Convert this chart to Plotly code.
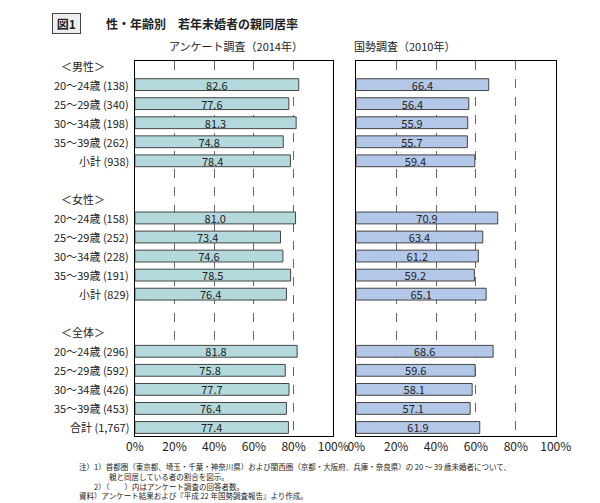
import plotly.graph_objects as go

# 行ラベル（見出し・空行を含む）
labels = ["＜男性＞", "20～24歳 (138)", "25～29歳 (340)", "30～34歳 (198)", "35～39歳 (262)", "小計 (938)", "",
          "＜女性＞", "20～24歳 (158)", "25～29歳 (252)", "30～34歳 (228)", "35～39歳 (191)", "小計 (829)", "",
          "＜全体＞", "20～24歳 (296)", "25～29歳 (592)", "30～34歳 (426)", "35～39歳 (453)", "合計 (1,767)"]
survey_2014 = [None, 82.6, 77.6, 81.3, 74.8, 78.4, None,
               None, 81.0, 73.4, 74.6, 78.5, 76.4, None,
               None, 81.8, 75.8, 77.7, 76.4, 77.4]
census_2010 = [None, 66.4, 56.4, 55.9, 55.7, 59.4, None,
               None, 70.9, 63.4, 61.2, 59.2, 65.1, None,
               None, 68.6, 59.6, 58.1, 57.1, 61.9]
ticks = [0, 20, 40, 60, 80, 100]

rows = list(range(len(labels)))
font = "Noto Sans CJK JP"

fig = go.Figure()
for vals, color, xa, ya in [(survey_2014, "#b3d9dc", "x", "y"), (census_2010, "#b3c7e8", "x2", "y2")]:
    fig.add_trace(go.Bar(
        x=vals, y=rows, orientation="h", xaxis=xa, yaxis=ya, width=0.62,
        marker=dict(color=color, line=dict(color="#444", width=1)),
        text=[f"{v:.1f}" if v is not None else "" for v in vals],
        textposition="inside", insidetextanchor="middle", constraintext="none",
        textfont=dict(size=11, color="#222", family=font),
        showlegend=False))

axis_x = dict(range=[0, 100], tickvals=ticks, ticktext=[f"{t}%" for t in ticks],
              showgrid=True, gridcolor="#666", griddash="dash", gridwidth=1,
              showline=True, linecolor="black", mirror=True, ticks="", zeroline=False,
              tickfont=dict(size=12, family=font, color="#222"))
axis_y = dict(range=[19.45, -0.25], showticklabels=False, showgrid=False, zeroline=False,
              showline=True, linecolor="black", mirror=True, domain=[0.149, 0.895])

fig.update_layout(
    width=600, height=503, margin=dict(l=0, r=0, t=0, b=0),
    paper_bgcolor="white", plot_bgcolor="white",
    xaxis=dict(axis_x, domain=[0.205, 0.55]),
    xaxis2=dict(axis_x, domain=[0.59, 0.937], anchor="y2"),
    yaxis=dict(axis_y),
    yaxis2=dict(axis_y, anchor="x2"),
    font=dict(family=font),
    uniformtext=dict(minsize=11, mode="show"),
)

ann = []
for i, lab in enumerate(labels):
    if not lab:
        continue
    if lab.startswith("＜"):
        ann.append(dict(x=0.115, y=i, xref="paper", yref="y", text=lab, showarrow=False,
                        xanchor="center", font=dict(size=11, color="#222")))
    else:
        ann.append(dict(x=0.198, y=i, xref="paper", yref="y", text=lab, showarrow=False,
                        xanchor="right", font=dict(size=11, color="#222")))
ann += [
    dict(x=0.38, y=0.905, xref="paper", yref="paper", yanchor="bottom", text="アンケート調査（2014年）",
         showarrow=False, font=dict(size=11, color="#222")),
    dict(x=0.765, y=0.905, xref="paper", yref="paper", yanchor="bottom", text="国勢調査（2010年）",
         showarrow=False, font=dict(size=11, color="#222")),
    dict(x=0.06, y=0.99, xref="paper", yref="paper", text="<b> 図1 </b>", showarrow=False,
         xanchor="left", yanchor="top", font=dict(size=12, color="#222"),
         bordercolor="#444", borderwidth=1, borderpad=1, bgcolor="#eee"),
    dict(x=0.13, y=0.99, xref="paper", yref="paper", text="<b>　性・年齢別　若年未婚者の親同居率</b>",
         showarrow=False, xanchor="left", yanchor="top", font=dict(size=12, color="#222")),
    dict(x=0.105, y=0.103, xref="paper", yref="paper", xanchor="left", yanchor="top", align="left",
         showarrow=False, font=dict(size=7.5, color="#222"),
         text="注）1）首都圏（東京都、埼玉・千葉・神奈川県）および関西圏（京都・大阪府、兵庫・奈良県）の 20 ～ 39 歳未婚者について、<br>"
              "　　　　親と同居している者の割合を図示。<br>"
              "　　2）（　　）内はアンケート調査の回答者数。<br>"
              "資料）アンケート結果および『平成 22 年国勢調査報告』より作成。"),
]
fig.update_layout(annotations=ann)

fig.write_html("out.html")
